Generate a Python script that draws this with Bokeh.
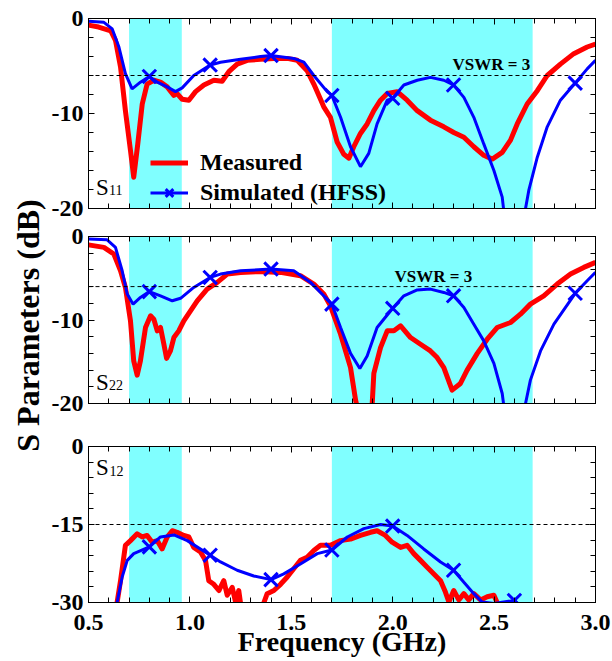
import numpy as np
from bokeh.plotting import figure
from bokeh.models import (Range1d, LinearAxis, FixedTicker, NumeralTickFormatter,
                          BoxAnnotation, Span, Legend, LegendItem, Label,
                          CustomLabelingPolicy)
from bokeh.layouts import column, row
from bokeh.embed import file_html
from bokeh.resources import INLINE

# ---------------- data ----------------
bands = [(0.70, 0.96), (1.70, 2.69)]
vswr3_db = -6.0
s12_ref_db = -15.0
marker_freqs = [0.8, 1.1, 1.4, 1.7, 2.0, 2.3, 2.6, 2.9]

s11_meas_f = [0.50, 0.55, 0.61, 0.633, 0.658, 0.682, 0.707, 0.723, 0.743, 0.765, 0.789,
              0.822, 0.855, 0.888, 0.921, 0.937, 0.962, 0.995, 1.028, 1.069, 1.118,
              1.159, 1.192, 1.233, 1.283, 1.348, 1.414, 1.48, 1.529, 1.578, 1.611,
              1.644, 1.66, 1.693, 1.726, 1.759, 1.784, 1.808, 1.841, 1.874, 1.907,
              1.94, 1.973, 2.022, 2.071, 2.121, 2.186, 2.252, 2.301, 2.351, 2.40,
              2.449, 2.491, 2.54, 2.581, 2.614, 2.663, 2.713, 2.762, 2.827, 2.893,
              2.959, 3.0]
s11_meas_db = [-0.7, -0.9, -1.3, -2.3, -5.1, -9.7, -13.9, -16.7, -13.2, -9.0, -6.9,
               -6.5, -6.7, -7.2, -8.1, -7.9, -8.5, -8.6, -7.7, -7.0, -6.5,
               -6.6, -5.6, -4.8, -4.4, -4.3, -4.2, -4.2, -4.4, -5.5, -6.9,
               -8.5, -9.3, -10.4, -13.0, -14.3, -14.7, -13.5, -12.1, -11.1, -9.7,
               -8.6, -7.9, -7.7, -8.6, -9.7, -10.7, -11.4, -12.0, -12.5, -13.5,
               -14.4, -14.8, -14.1, -12.8, -11.1, -9.0, -7.6, -6.0, -4.8, -3.7,
               -3.0, -2.7]

s11_sim_f = [0.5, 0.576, 0.617, 0.65, 0.682, 0.715, 0.756, 0.8, 0.839, 0.888,
             0.929, 0.962, 1.019, 1.1, 1.151, 1.25, 1.348, 1.4, 1.512, 1.562,
             1.611, 1.677, 1.7, 1.743, 1.792, 1.841, 1.882, 1.923, 1.973, 2.0,
             2.055, 2.121, 2.186, 2.252, 2.3, 2.351, 2.4, 2.449, 2.499, 2.54,
             2.6, 2.655, 2.671, 2.713, 2.762, 2.827, 2.9, 2.959, 3.0]
s11_sim_db = [-0.3, -0.4, -1.1, -3.0, -5.8, -7.4, -6.7, -6.1, -6.7, -7.2,
              -7.7, -7.3, -6.0, -4.9, -4.6, -4.3, -4.0, -3.9, -4.2, -4.6,
              -6.0, -7.7, -8.1, -10.4, -13.5, -15.6, -14.2, -11.1, -8.6, -8.4,
              -7.0, -6.5, -6.2, -6.5, -7.0, -8.3, -10.4, -13.2, -16.0, -18.8,
              -30.0, -20.0, -18.1, -14.6, -11.4, -8.6, -6.8, -5.3, -4.4]

s22_meas_f = [0.5, 0.576, 0.625, 0.658, 0.682, 0.707, 0.723, 0.74, 0.756, 0.781,
              0.806, 0.822, 0.839, 0.855, 0.871, 0.885, 0.904, 0.921, 0.945, 0.97,
              1.003, 1.036, 1.085, 1.135, 1.184, 1.25, 1.348, 1.447, 1.545, 1.611,
              1.644, 1.66, 1.693, 1.743, 1.792, 1.817, 1.86, 1.899, 1.907, 1.94,
              1.973, 2.006, 2.039, 2.088, 2.137, 2.186, 2.219, 2.252, 2.293, 2.334,
              2.367, 2.417, 2.466, 2.515, 2.581, 2.63, 2.679, 2.745, 2.811, 2.877,
              2.942, 3.0]
s22_meas_db = [-1.0, -1.3, -2.1, -4.1, -6.1, -10.1, -14.9, -16.6, -14.9, -10.9,
               -9.5, -9.9, -11.3, -10.9, -12.8, -14.6, -13.7, -12.1, -11.3, -10.1,
               -8.9, -7.7, -6.3, -5.5, -4.5, -4.3, -4.2, -4.3, -4.7, -5.7,
               -6.5, -6.9, -8.3, -11.7, -15.7, -19.6, -24.0, -20.0, -16.4, -13.3,
               -11.3, -11.3, -10.7, -12.1, -12.9, -13.7, -14.5, -15.7, -18.4, -17.6,
               -16.0, -14.0, -12.3, -10.9, -10.3, -9.3, -8.1, -7.1, -5.7, -4.5,
               -3.7, -3.1]

s22_sim_f = [0.5, 0.592, 0.633, 0.666, 0.691, 0.72, 0.756, 0.8, 0.855, 0.913,
             0.954, 1.019, 1.1, 1.151, 1.25, 1.4, 1.512, 1.595, 1.66, 1.7,
             1.743, 1.792, 1.838, 1.874, 1.923, 2.0, 2.055, 2.121, 2.186, 2.252,
             2.3, 2.351, 2.4, 2.449, 2.499, 2.54, 2.6, 2.655, 2.679, 2.729,
             2.795, 2.9, 2.959, 3.0]
s22_sim_db = [-0.3, -0.4, -1.3, -4.1, -6.9, -8.1, -7.3, -6.6, -7.1, -7.7,
              -7.4, -6.1, -4.9, -4.5, -4.1, -3.9, -4.1, -5.5, -7.1, -8.1,
              -10.9, -14.0, -15.8, -14.3, -10.9, -8.6, -7.1, -6.4, -6.3, -6.7,
              -7.1, -8.5, -10.5, -12.5, -15.2, -18.8, -30.0, -20.0, -17.2, -13.7,
              -10.5, -6.8, -5.3, -4.3]

s12_meas_f = [0.5, 0.62, 0.641, 0.658, 0.682, 0.707, 0.74, 0.765, 0.789, 0.814,
              0.839, 0.863, 0.888, 0.913, 0.937, 0.97, 0.995, 1.019, 1.052, 1.077,
              1.093, 1.118, 1.143, 1.167, 1.184, 1.209, 1.225, 1.241, 1.26, 1.35,
              1.365, 1.381, 1.414, 1.447, 1.48, 1.512, 1.545, 1.578, 1.611, 1.644,
              1.693, 1.743, 1.792, 1.841, 1.891, 1.923, 1.964, 1.997, 2.039, 2.071,
              2.104, 2.137, 2.17, 2.203, 2.236, 2.26, 2.277, 2.301, 2.326, 2.351,
              2.375, 2.40, 2.433, 2.466, 2.499, 2.515, 2.54]
s12_meas_db = [-40, -34, -30.0, -25.8, -19.0, -18.1, -16.8, -17.4, -17.1, -18.4,
               -18.1, -19.7, -17.4, -16.2, -16.5, -17.1, -17.4, -19.4, -20.3, -21.9,
               -25.8, -26.5, -27.7, -25.8, -28.6, -27.1, -29.9, -27.7, -33, -33,
               -30, -28.3, -27.7, -26.5, -25.1, -23.5, -21.9, -21.3, -20.0, -19.0,
               -19.0, -18.1, -17.8, -17.1, -16.5, -16.2, -17.1, -18.4, -19.4, -19.0,
               -20.6, -21.9, -23.2, -24.5, -25.8, -28.0, -29.9, -27.7, -29.5, -28.3,
               -29.5, -28.3, -29.5, -28.9, -28.6, -30.0, -33]

s12_sim_f = [0.5, 0.62, 0.641, 0.666, 0.691, 0.723, 0.8, 0.855, 0.921, 0.987,
             1.1, 1.151, 1.233, 1.315, 1.4, 1.463, 1.545, 1.628, 1.7, 1.776,
             1.858, 1.94, 2.0, 2.071, 2.153, 2.236, 2.3, 2.351, 2.4, 2.441,
             2.5, 2.6, 2.7, 2.9, 3.0]
s12_sim_db = [-40, -34, -30, -25.1, -21.9, -20.6, -19.3, -17.4, -17.0, -18.1,
              -20.9, -22.2, -23.8, -24.9, -25.6, -24.5, -22.6, -20.6, -19.9, -17.4,
              -15.8, -15.0, -15.3, -17.1, -19.7, -22.2, -23.8, -26.1, -28.3, -29.9,
              -30.2, -29.6, -33, -40, -40]

x_major = [0.5, 1.0, 1.5, 2.0, 2.5, 3.0]
x_minor = [round(0.5 + 0.1 * i, 1) for i in range(26)]

# ---------------- style ----------------
FONT = "Liberation Serif"
RED = "#ff0000"
BLUE = "#0000ff"
CYAN = "#80ffff"
LEFT_W = 48
PANEL_W = 612 - LEFT_W

NO_LABELS = """
try { for (const i of Array.from(indices)) indices.unset(i) } catch (e) {}
return indices
"""


def style_axis(ax, ticker, labels, fmt=None):
    ax.ticker = ticker
    ax.axis_line_color = "black"
    ax.axis_line_width = 1
    ax.major_tick_in = 6
    ax.major_tick_out = 0
    ax.minor_tick_in = 5
    ax.minor_tick_out = 0
    ax.major_tick_line_color = "black"
    ax.minor_tick_line_color = "black"
    if labels:
        ax.major_label_text_font = FONT
        ax.major_label_text_font_style = "bold"
        ax.major_label_text_font_size = "24px"
        ax.major_label_text_color = "black"
        if fmt is not None:
            ax.formatter = fmt
    else:
        ax.major_label_text_font_size = "1px"
        ax.major_label_standoff = 0
        ax.major_label_policy = CustomLabelingPolicy(code=NO_LABELS)


def make_panel(height, b_top, b_bottom, y_lo, y_major, y_minor, bottom_labels):
    p = figure(width=PANEL_W, height=height,
               x_range=Range1d(0.5, 3.0), y_range=Range1d(y_lo, 0),
               output_backend="svg", toolbar_location=None,
               min_border_left=88 - LEFT_W, min_border_right=17,
               min_border_top=b_top, min_border_bottom=b_bottom)
    p.xgrid.visible = False
    p.ygrid.visible = False
    p.outline_line_color = "black"
    p.outline_line_width = 1
    p.background_fill_color = "white"
    p.border_fill_color = "white"
    style_axis(p.left[0], FixedTicker(ticks=y_major, minor_ticks=y_minor), True,
               NumeralTickFormatter(format="0"))
    p.left[0].major_label_standoff = 5
    style_axis(p.below[0], FixedTicker(ticks=x_major, minor_ticks=x_minor), bottom_labels,
               NumeralTickFormatter(format="0.0"))
    ra = LinearAxis()
    style_axis(ra, FixedTicker(ticks=y_major, minor_ticks=y_minor), False)
    p.add_layout(ra, "right")
    ta = LinearAxis()
    style_axis(ta, FixedTicker(ticks=x_major, minor_ticks=x_minor), False)
    p.add_layout(ta, "above")
    for lo, hi in bands:
        p.add_layout(BoxAnnotation(left=lo, right=hi, fill_color=CYAN, fill_alpha=1.0,
                                   line_color=None, level="underlay"))
    return p


def add_curves(p, mf, md, sf, sd, ref_db):
    p.add_layout(Span(location=ref_db, dimension="width", line_color="black",
                      line_width=1, line_dash="4 3"))
    r_meas = p.line(mf, md, line_color=RED, line_width=5, line_join="round")
    r_sim = p.line(sf, sd, line_color=BLUE, line_width=3)
    sf_a = np.array(sf)
    sd_a = np.array(sd)
    mask = np.isin(np.round(sf_a, 3), marker_freqs)
    r_mk = p.scatter(sf_a[mask], sd_a[mask], marker="x", size=19, line_color=BLUE,
                     line_width=3)
    return r_meas, r_sim, r_mk


def sub_label(p, x, y, y_sub, main, sub, sub_dx):
    p.add_layout(Label(x=x, y=y, text=main, text_font=FONT, text_font_size="23px",
                       text_baseline="middle", text_align="left", text_color="black"))
    p.add_layout(Label(x=x + sub_dx, y=y_sub, text=sub, text_font=FONT,
                       text_font_size="14px", text_baseline="middle", text_align="left",
                       text_color="black"))


def vswr_label(p, x, y):
    p.add_layout(Label(x=x, y=y, text="VSWR = 3", text_font=FONT, text_font_size="17px",
                       text_font_style="bold", text_baseline="middle",
                       text_align="left", text_color="black"))


y_minor_20 = list(range(-20, 1, 2))
y_minor_30 = list(range(-30, 1, 3))

# top: S11
p1 = make_panel(222, 18, 14, -20, [-20, -10, 0], y_minor_20, False)
rm, rs, rk = add_curves(p1, s11_meas_f, s11_meas_db, s11_sim_f, s11_sim_db, vswr3_db)
sub_label(p1, 0.537, -17.84, -18.05, "S", "11", 0.064)
vswr_label(p1, 2.295, -4.89)
legend = Legend(items=[LegendItem(label="Measured", renderers=[rm]),
                       LegendItem(label="Simulated (HFSS)", renderers=[rs, rk])],
                location=(62, 2), orientation="vertical")
legend.label_text_font = FONT
legend.label_text_font_style = "bold"
legend.label_text_font_size = "24px"
legend.label_text_color = "black"
legend.glyph_width = 38
legend.glyph_height = 27
legend.label_height = 27
legend.label_standoff = 12
legend.spacing = 3
legend.padding = 0
legend.margin = 0
legend.border_line_color = None
legend.background_fill_alpha = 0
p1.add_layout(legend)

# middle: S22
p2 = make_panel(195, 14, 14, -20, [-20, -10, 0], y_minor_20, False)
add_curves(p2, s22_meas_f, s22_meas_db, s22_sim_f, s22_sim_db, vswr3_db)
sub_label(p2, 0.537, -17.49, -17.75, "S", "22", 0.064)
vswr_label(p2, 2.009, -4.79)

# bottom: S12
p3 = make_panel(244, 29, 59, -30, [-30, -15, 0], y_minor_30, True)
add_curves(p3, s12_meas_f, s12_meas_db, s12_sim_f, s12_sim_db, s12_ref_db)
sub_label(p3, 0.537, -4.04, -4.8, "S", "12", 0.066)
xb = p3.below[0]
xb.axis_label = "Frequency (GHz)"
xb.axis_label_text_font = FONT
xb.axis_label_text_font_style = "bold"
xb.axis_label_text_font_size = "28px"
xb.axis_label_text_color = "black"
xb.axis_label_standoff = -7
xb.major_label_standoff = 12

# shared y-axis title
yl = figure(width=LEFT_W, height=661, x_range=Range1d(0, LEFT_W), y_range=Range1d(0, 661),
            output_backend="svg", toolbar_location=None, min_border=0,
            x_axis_location=None, y_axis_location=None)
yl.grid.visible = False
yl.outline_line_color = None
yl.add_layout(Label(x=27.5, y=336, text="S Parameters (dB)", angle=np.pi / 2,
                    text_align="center", text_baseline="middle", text_font=FONT,
                    text_font_size="32px", text_font_style="bold", text_color="black"))

layout = row(yl, column(p1, p2, p3))
open("out.html", "w").write(file_html(layout, INLINE))
